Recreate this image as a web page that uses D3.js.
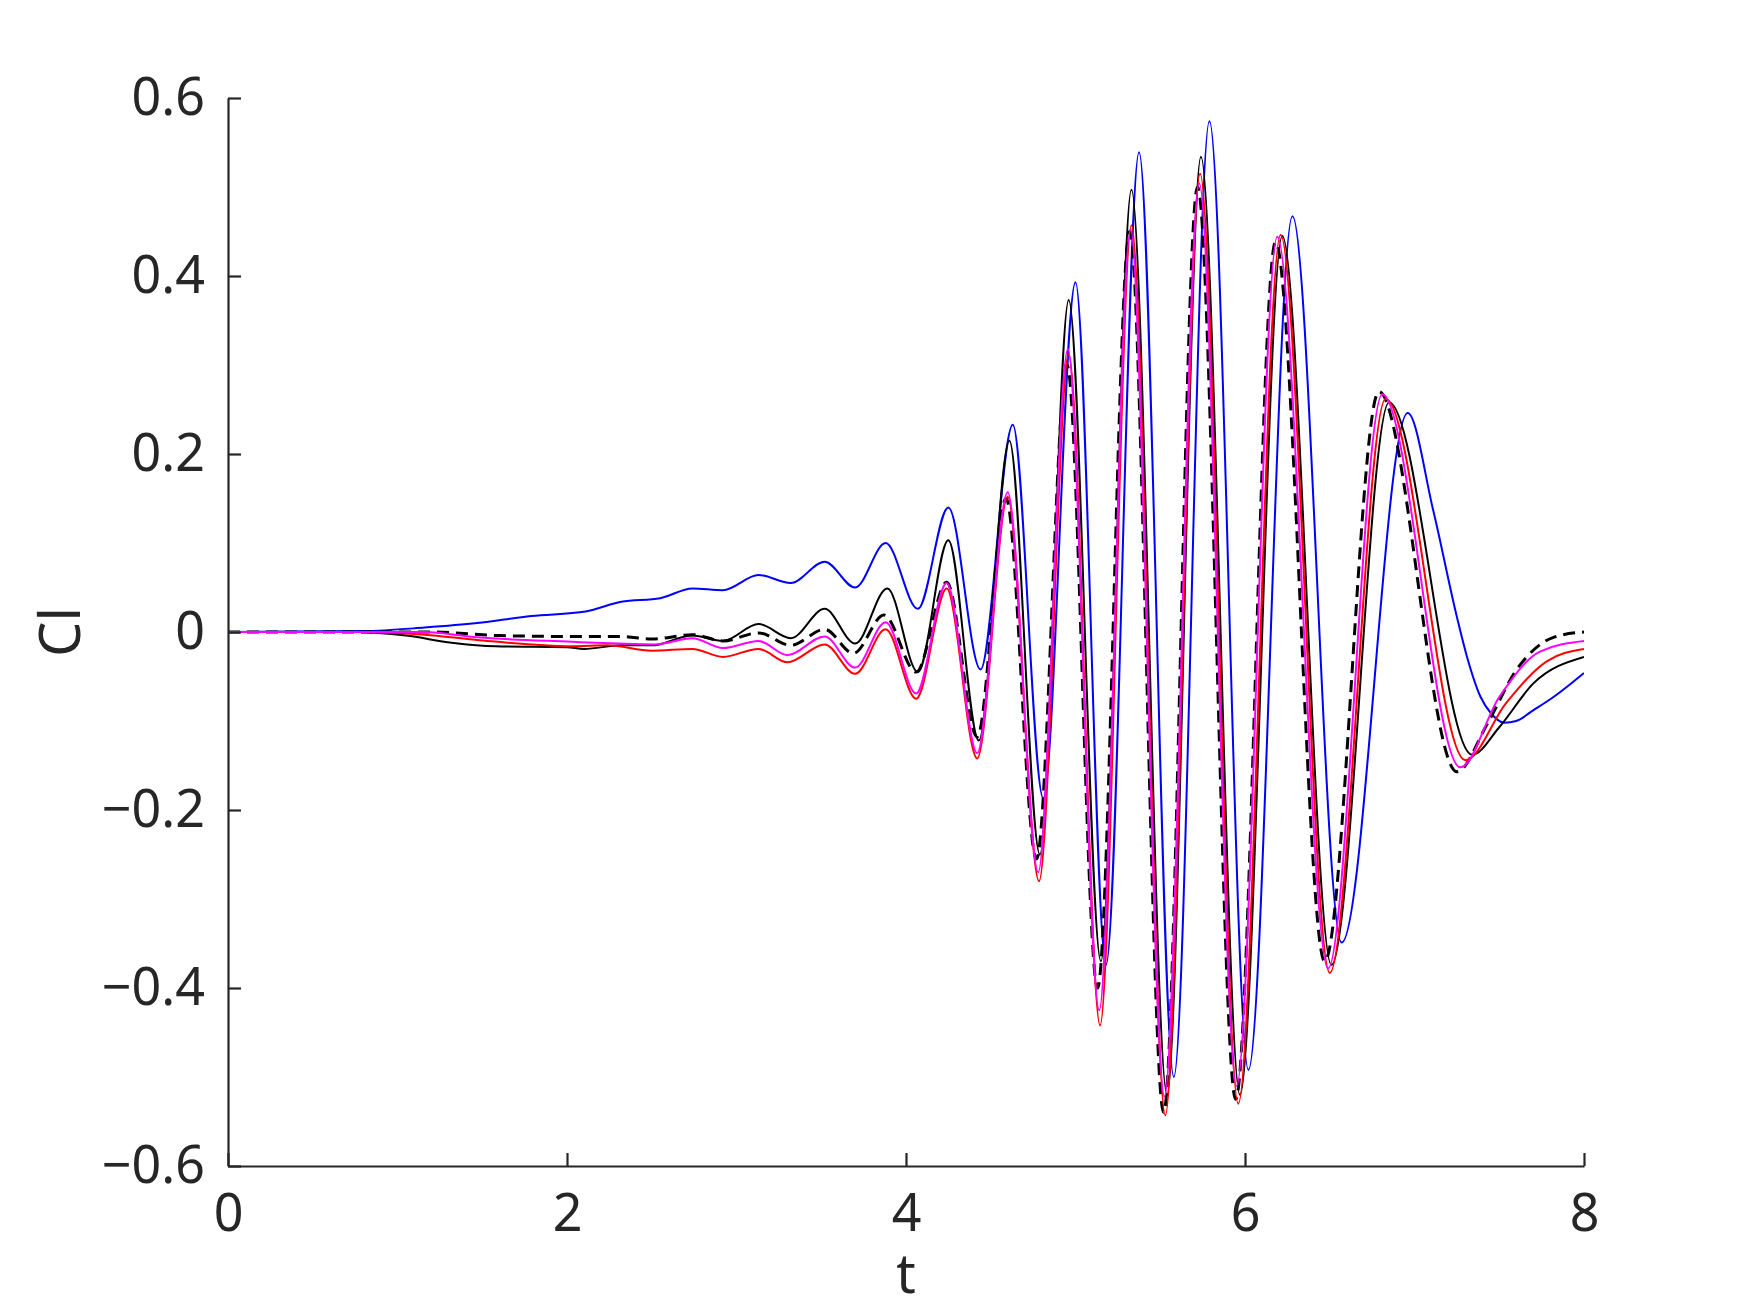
<!DOCTYPE html>
<html>
<head>
<meta charset="utf-8">
<script src="https://cdn.jsdelivr.net/npm/d3@7"></script>
<style>
  html, body { margin: 0; padding: 0; background: #ffffff; }
  svg { display: block; }
</style>
</head>
<body>
<div id="chart"></div>
<script>
// ---- data ----
const xTicks = [0, 2, 4, 6, 8];
const xTickLabels = ["0", "2", "4", "6", "8"];
const yTicks = [-0.6, -0.4, -0.2, 0, 0.2, 0.4, 0.6];
const yTickLabels = ["\u22120.6", "\u22120.4", "\u22120.2", "0", "0.2", "0.4", "0.6"];

const tBlue = [0, 0.8, 1.16, 1.47, 1.79, 2.11, 2.32, 2.55, 2.74, 2.92, 3.13, 3.32, 3.52, 3.70, 3.88, 4.07, 4.25, 4.44, 4.63, 4.81, 5.0, 5.18, 5.375, 5.58, 5.79, 6.02, 6.28, 6.57, 6.96, 7.11, 7.25, 7.31, 7.39, 7.45, 7.53, 7.60, 7.70, 7.82, 8.0];
const clBlue = [0, 0.001, 0.005, 0.010, 0.018, 0.023, 0.034, 0.038, 0.049, 0.047, 0.064, 0.055, 0.079, 0.050, 0.100, 0.026, 0.140, -0.042, 0.233, -0.187, 0.393, -0.374, 0.539, -0.500, 0.574, -0.492, 0.467, -0.349, 0.246, 0.137, 0.017, -0.028, -0.073, -0.091, -0.102, -0.100, -0.088, -0.073, -0.046];

const tBlack = [0, 0.76, 1.05, 1.32, 1.58, 2.0, 2.1, 2.32, 2.5, 2.74, 2.92, 3.13, 3.32, 3.52, 3.70, 3.89, 4.07, 4.25, 4.43, 4.61, 4.79, 4.96, 5.15, 5.33, 5.54, 5.74, 5.97, 6.22, 6.51, 6.85, 7.34, 7.50, 7.70, 8.0];
const clBlack = [0, 0, -0.004, -0.012, -0.016, -0.017, -0.019, -0.015, -0.015, -0.004, -0.010, 0.009, -0.007, 0.026, -0.013, 0.049, -0.045, 0.103, -0.122, 0.215, -0.25, 0.373, -0.37, 0.497, -0.52, 0.534, -0.52, 0.445, -0.374, 0.258, -0.138, -0.107, -0.058, -0.028];

const tDash = [0, 1.2, 1.6, 2.0, 2.32, 2.5, 2.74, 2.92, 3.13, 3.32, 3.52, 3.69, 3.87, 4.06, 4.24, 4.42, 4.59, 4.77, 4.95, 5.13, 5.32, 5.52, 5.72, 5.945, 6.18, 6.47, 6.79, 7.25, 7.43, 7.60, 7.82, 8.0];
const clDash = [0, 0, -0.004, -0.005, -0.005, -0.008, -0.003, -0.010, -0.001, -0.015, 0.003, -0.024, 0.019, -0.045, 0.056, -0.118, 0.150, -0.255, 0.300, -0.40, 0.45, -0.54, 0.50, -0.525, 0.438, -0.37, 0.27, -0.157, -0.103, -0.043, -0.006, 0];

const tRed = [0, 0.76, 1.16, 1.47, 2.03, 2.24, 2.5, 2.74, 2.92, 3.13, 3.30, 3.52, 3.70, 3.88, 4.06, 4.24, 4.42, 4.60, 4.785, 4.96, 5.145, 5.33, 5.53, 5.735, 5.96, 6.21, 6.50, 6.83, 7.30, 7.54, 7.78, 8.0];
const clRed = [0, 0, -0.003, -0.009, -0.016, -0.015, -0.021, -0.019, -0.028, -0.019, -0.034, -0.014, -0.047, 0.003, -0.075, 0.049, -0.142, 0.152, -0.28, 0.312, -0.442, 0.457, -0.543, 0.515, -0.53, 0.446, -0.383, 0.262, -0.144, -0.080, -0.033, -0.019];

const tMag = [0, 1.16, 1.47, 2.03, 2.3, 2.52, 2.74, 2.92, 3.13, 3.30, 3.52, 3.70, 3.88, 4.06, 4.24, 4.42, 4.60, 4.78, 4.955, 5.14, 5.325, 5.525, 5.73, 5.95, 6.19, 6.49, 6.81, 7.27, 7.50, 7.74, 8.0];
const clMag = [0, 0, -0.006, -0.011, -0.013, -0.014, -0.007, -0.018, -0.010, -0.026, -0.005, -0.040, 0.011, -0.069, 0.055, -0.136, 0.157, -0.27, 0.318, -0.425, 0.452, -0.522, 0.504, -0.51, 0.444, -0.378, 0.267, -0.152, -0.073, -0.022, -0.01];

const series = [
  { t: tBlue,  v: clBlue,  color: "#0000ff", width: 2,   dash: null },
  { t: tBlack, v: clBlack, color: "#000000", width: 2,   dash: null },
  { t: tDash,  v: clDash,  color: "#000000", width: 3,   dash: "12,7" },
  { t: tRed,   v: clRed,   color: "#ff0000", width: 2,   dash: null },
  { t: tMag,   v: clMag,   color: "#ff00ff", width: 2,   dash: null }
];

// ---- layout ----
const W = 1750, H = 1313;
const plotL = 228, plotR = 1584, plotT = 98, plotB = 1166;
const axisColor = "#262626";
const fontFamily = "'Noto Sans', 'Open Sans', sans-serif";

const svg = d3.select("#chart").append("svg")
  .attr("width", W).attr("height", H);

const x = d3.scaleLinear().domain([0, 8]).range([plotL, plotR]);
const y = d3.scaleLinear().domain([-0.6, 0.6]).range([plotB, plotT]);

svg.append("clipPath").attr("id", "clip")
  .append("rect").attr("x", plotL).attr("y", plotT - 5).attr("width", plotR - plotL).attr("height", plotB - plotT + 10);

const line = d3.line()
  .x(d => x(d[0]))
  .y(d => y(d[1]))
  .curve(d3.curveMonotoneX);

const g = svg.append("g").attr("clip-path", "url(#clip)");
series.forEach(s => {
  const pts = s.t.map((t, i) => [t, s.v[i]]);
  g.append("path")
    .attr("d", line(pts))
    .attr("fill", "none")
    .attr("stroke", s.color)
    .attr("stroke-width", s.width)
    .attr("stroke-dasharray", s.dash)
    .attr("stroke-linejoin", "round");
});

// axes
const xAxis = d3.axisBottom(x)
  .tickValues(xTicks)
  .tickFormat((d, i) => xTickLabels[i])
  .tickSizeInner(-13).tickSizeOuter(0).tickPadding(28);
const yAxis = d3.axisLeft(y)
  .tickValues(yTicks)
  .tickFormat((d, i) => yTickLabels[i])
  .tickSizeInner(-13).tickSizeOuter(0).tickPadding(23);

const gx = svg.append("g").attr("transform", `translate(0,${plotB})`).call(xAxis);
const gy = svg.append("g").attr("transform", `translate(${plotL},0)`).call(yAxis);

[gx, gy].forEach(ax => {
  ax.select(".domain").attr("stroke", axisColor).attr("stroke-width", 2.2);
  ax.selectAll(".tick line").attr("stroke", axisColor).attr("stroke-width", 2.2);
  ax.selectAll(".tick text")
    .attr("fill", axisColor)
    .style("font-family", fontFamily)
    .style("font-size", "52px");
});

// axis labels
svg.append("text")
  .attr("x", (plotL + plotR) / 2)
  .attr("y", 1293)
  .attr("text-anchor", "middle")
  .attr("fill", axisColor)
  .style("font-family", fontFamily)
  .style("font-size", "54px")
  .text("t");

svg.append("text")
  .attr("transform", `translate(80,${(plotT + plotB) / 2}) rotate(-90)`)
  .attr("text-anchor", "middle")
  .attr("fill", axisColor)
  .style("font-family", fontFamily)
  .style("font-size", "56px")
  .text("Cl");
</script>
</body>
</html>
